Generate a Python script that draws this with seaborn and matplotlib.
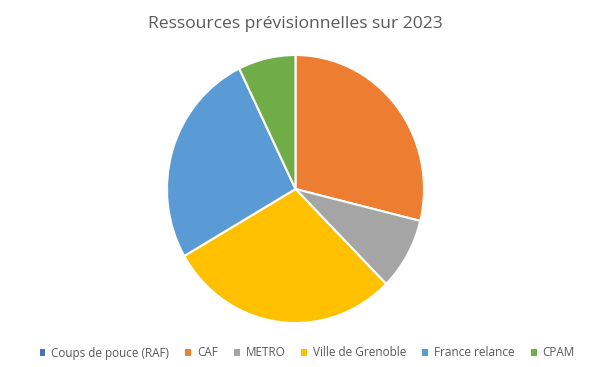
import matplotlib.pyplot as plt
import seaborn as sns
from matplotlib.patches import Patch

labels = ["Coups de pouce (RAF)", "CAF", "METRO", "Ville de Grenoble", "France relance", "CPAM"]
values = [0.0, 28.8, 8.7, 29.1, 26.1, 7.2]
colors = ["#4472C4", "#ED7D31", "#A5A5A5", "#FFC000", "#5B9BD5", "#70AD47"]
title = "Ressources prévisionnelles sur 2023"

sns.set_theme(style="white")
plt.rcParams["font.family"] = ["Open Sans", "DejaVu Sans"]

fig = plt.figure(figsize=(6, 3.67), dpi=100)
ax = fig.add_axes([0.2783, 0.1199, 0.4283, 0.7302])
ax.pie(values, colors=colors, startangle=90, counterclock=False,
       wedgeprops=dict(edgecolor="white", linewidth=1.5))
ax.set_aspect("auto")
ax.set_xlim(-1, 1)
ax.set_ylim(-1, 1)
ax.axis("off")

fig.text(0.492, 1 - 24 / 367, title, ha="center", va="center", fontsize=12.6, color="#595959")

handles = [Patch(facecolor=c, edgecolor="none") for c in colors]
fig.legend(handles, labels, loc="center", bbox_to_anchor=(0.512, 1 - 353 / 367), ncol=6,
           frameon=False, fontsize=8.5, handlelength=0.5, handleheight=0.5,
           handletextpad=0.5, columnspacing=1.35, labelcolor="#595959")

fig.savefig("out.png", dpi=100)
